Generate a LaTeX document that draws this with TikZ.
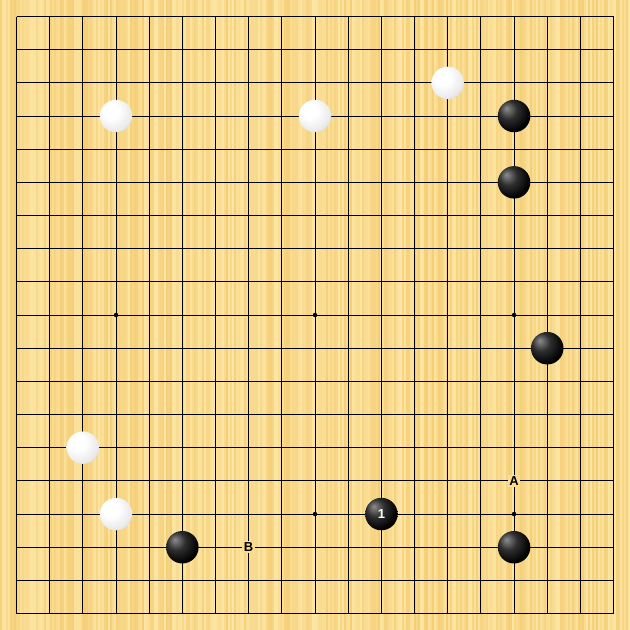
\documentclass[tikz,border=0pt]{standalone}
\usepackage{fontspec}
\setmainfont{Liberation Sans}
\definecolor{board}{RGB}{250,221,145}
\definecolor{boardlight}{RGB}{253,230,165}
\definecolor{boarddark}{RGB}{244,206,118}
\pgfdeclareradialshading{whiteball}{\pgfpoint{-10bp}{10bp}}{color(0bp)=(white); color(12bp)=(white); color(28bp)=(black!8); color(42bp)=(black!25); color(56bp)=(black!45); color(64bp)=(black!55)}
\pgfdeclareradialshading{blackball}{\pgfpoint{-12bp}{12bp}}{color(0bp)=(black!45); color(14bp)=(black!82); color(30bp)=(black); color(64bp)=(black)}
\begin{document}
\begin{tikzpicture}[x=1pt,y=-1pt,
  blackstone/.style={circle,minimum size=32.5pt,inner sep=0pt,shading=blackball,text=white,font=\bfseries\fontsize{13}{13}\selectfont},
  whitestone/.style={circle,minimum size=32.5pt,inner sep=0pt,shading=whiteball},
  star/.style={circle,fill=black,minimum size=4.5pt,inner sep=0pt},
  marklabel/.style={fill=board,inner sep=1.5pt,font=\bfseries\fontsize{13}{13}\selectfont}]
\def\d{33.17}
\def\o{16.5}
\fill[boardlight] (0,0) rectangle (630,630);
\useasboundingbox (0,0) rectangle (630,630);
\pgfmathsetseed{7}
\foreach \x in {0,...,314} {
  \pgfmathsetmacro\m{int(rnd*100)}
  \fill[boarddark!\m!boardlight] ({2*\x},0) rectangle ({2*\x+2},630);
}
\foreach \i in {0,...,18} {
  \draw[line width=0.8pt] ({\o+\i*\d},\o) -- ({\o+\i*\d},{\o+18*\d});
  \draw[line width=0.8pt] (\o,{\o+\i*\d}) -- ({\o+18*\d},{\o+\i*\d});
}
\foreach \c/\r [count=\k] in {3/9,9/9,15/9,9/15,15/15}
  \node[star] (s\k) at ({\o+\c*\d},{\o+\r*\d}) {};
% white stones
\node[whitestone] (w1) at ({\o+3*\d},{\o+3*\d}) {};
\node[whitestone] (w2) at ({\o+9*\d},{\o+3*\d}) {};
\node[whitestone] (w3) at ({\o+13*\d},{\o+2*\d}) {};
\node[whitestone] (w4) at ({\o+2*\d},{\o+13*\d}) {};
\node[whitestone] (w5) at ({\o+3*\d},{\o+15*\d}) {};
% black stones
\node[blackstone] (b1) at ({\o+15*\d},{\o+3*\d}) {};
\node[blackstone] (b2) at ({\o+15*\d},{\o+5*\d}) {};
\node[blackstone] (b3) at ({\o+16*\d},{\o+10*\d}) {};
\node[blackstone] (b4) at ({\o+5*\d},{\o+16*\d}) {};
\node[blackstone] (b5) at ({\o+11*\d},{\o+15*\d}) {1};
\node[blackstone] (b6) at ({\o+15*\d},{\o+16*\d}) {};
% labels
\node[marklabel] (A) at ({\o+15*\d},{\o+14*\d}) {A};
\node[marklabel] (B) at ({\o+7*\d},{\o+16*\d}) {B};
\end{tikzpicture}
\end{document}
